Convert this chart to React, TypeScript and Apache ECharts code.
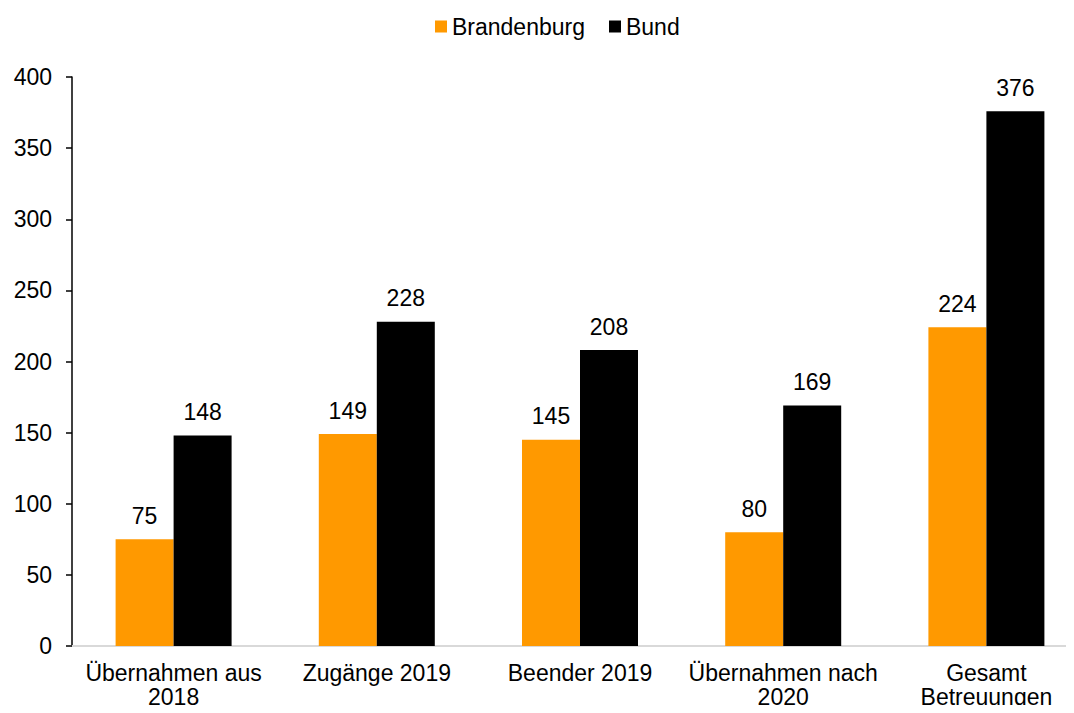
import React, { useEffect, useRef } from "react";
import * as echarts from "echarts";

const categories = [
  "Übernahmen aus\n2018",
  "Zugänge 2019",
  "Beender 2019",
  "Übernahmen nach\n2020",
  "Gesamt\nBetreuungen",
];
const brandenburg = [75, 149, 145, 80, 224];
const bund = [148, 228, 208, 169, 376];

const FONT = "Liberation Sans, Arial, sans-serif";
const FS = 23;

export default function App() {
  const ref = useRef<HTMLDivElement>(null);
  useEffect(() => {
    if (!ref.current) return;
    const chart = echarts.init(ref.current, undefined, { renderer: "svg" });
    const label = {
      show: true,
      position: "top",
      distance: 12,
      color: "#000",
      fontSize: FS,
      fontFamily: FONT,
    };
    chart.setOption({
      animation: false,
      textStyle: { fontFamily: FONT },
      legend: {
        top: 10,
        left: 430,
        itemWidth: 12,
        itemHeight: 12,
        itemGap: 24,
        icon: "rect",
        textStyle: { fontSize: FS, color: "#000", fontFamily: FONT },
        data: ["Brandenburg", "Bund"],
      },
      grid: { left: 72, top: 77, height: 569, width: 1016 },
      xAxis: {
        type: "category",
        data: categories,
        axisLine: { lineStyle: { color: "#d9d9d9", width: 2 } },
        axisTick: { show: false },
        axisLabel: {
          color: "#000",
          fontSize: FS,
          fontFamily: FONT,
          lineHeight: 24,
          margin: 15,
          interval: 0,
        },
      },
      yAxis: {
        type: "value",
        min: 0,
        max: 400,
        interval: 50,
        splitLine: { show: false },
        axisLine: { show: true, lineStyle: { color: "#000", width: 1.5 } },
        axisTick: { show: true, length: 6, lineStyle: { color: "#000", width: 1.5 } },
        axisLabel: { color: "#000", fontSize: FS, fontFamily: FONT, margin: 20 },
      },
      series: [
        {
          name: "Brandenburg",
          type: "bar",
          data: brandenburg,
          barWidth: 58,
          barGap: "0%",
          itemStyle: { color: "#FF9900" },
          label,
        },
        {
          name: "Bund",
          type: "bar",
          data: bund,
          barWidth: 58,
          barGap: "0%",
          itemStyle: { color: "#000000" },
          label,
        },
      ],
    });
    return () => chart.dispose();
  }, []);
  return (
    <div style={{ width: 1074, height: 713, margin: -8, overflow: "hidden", position: "relative" }}>
      <div ref={ref} style={{ width: 1100, height: 713 }} />
    </div>
  );
}
